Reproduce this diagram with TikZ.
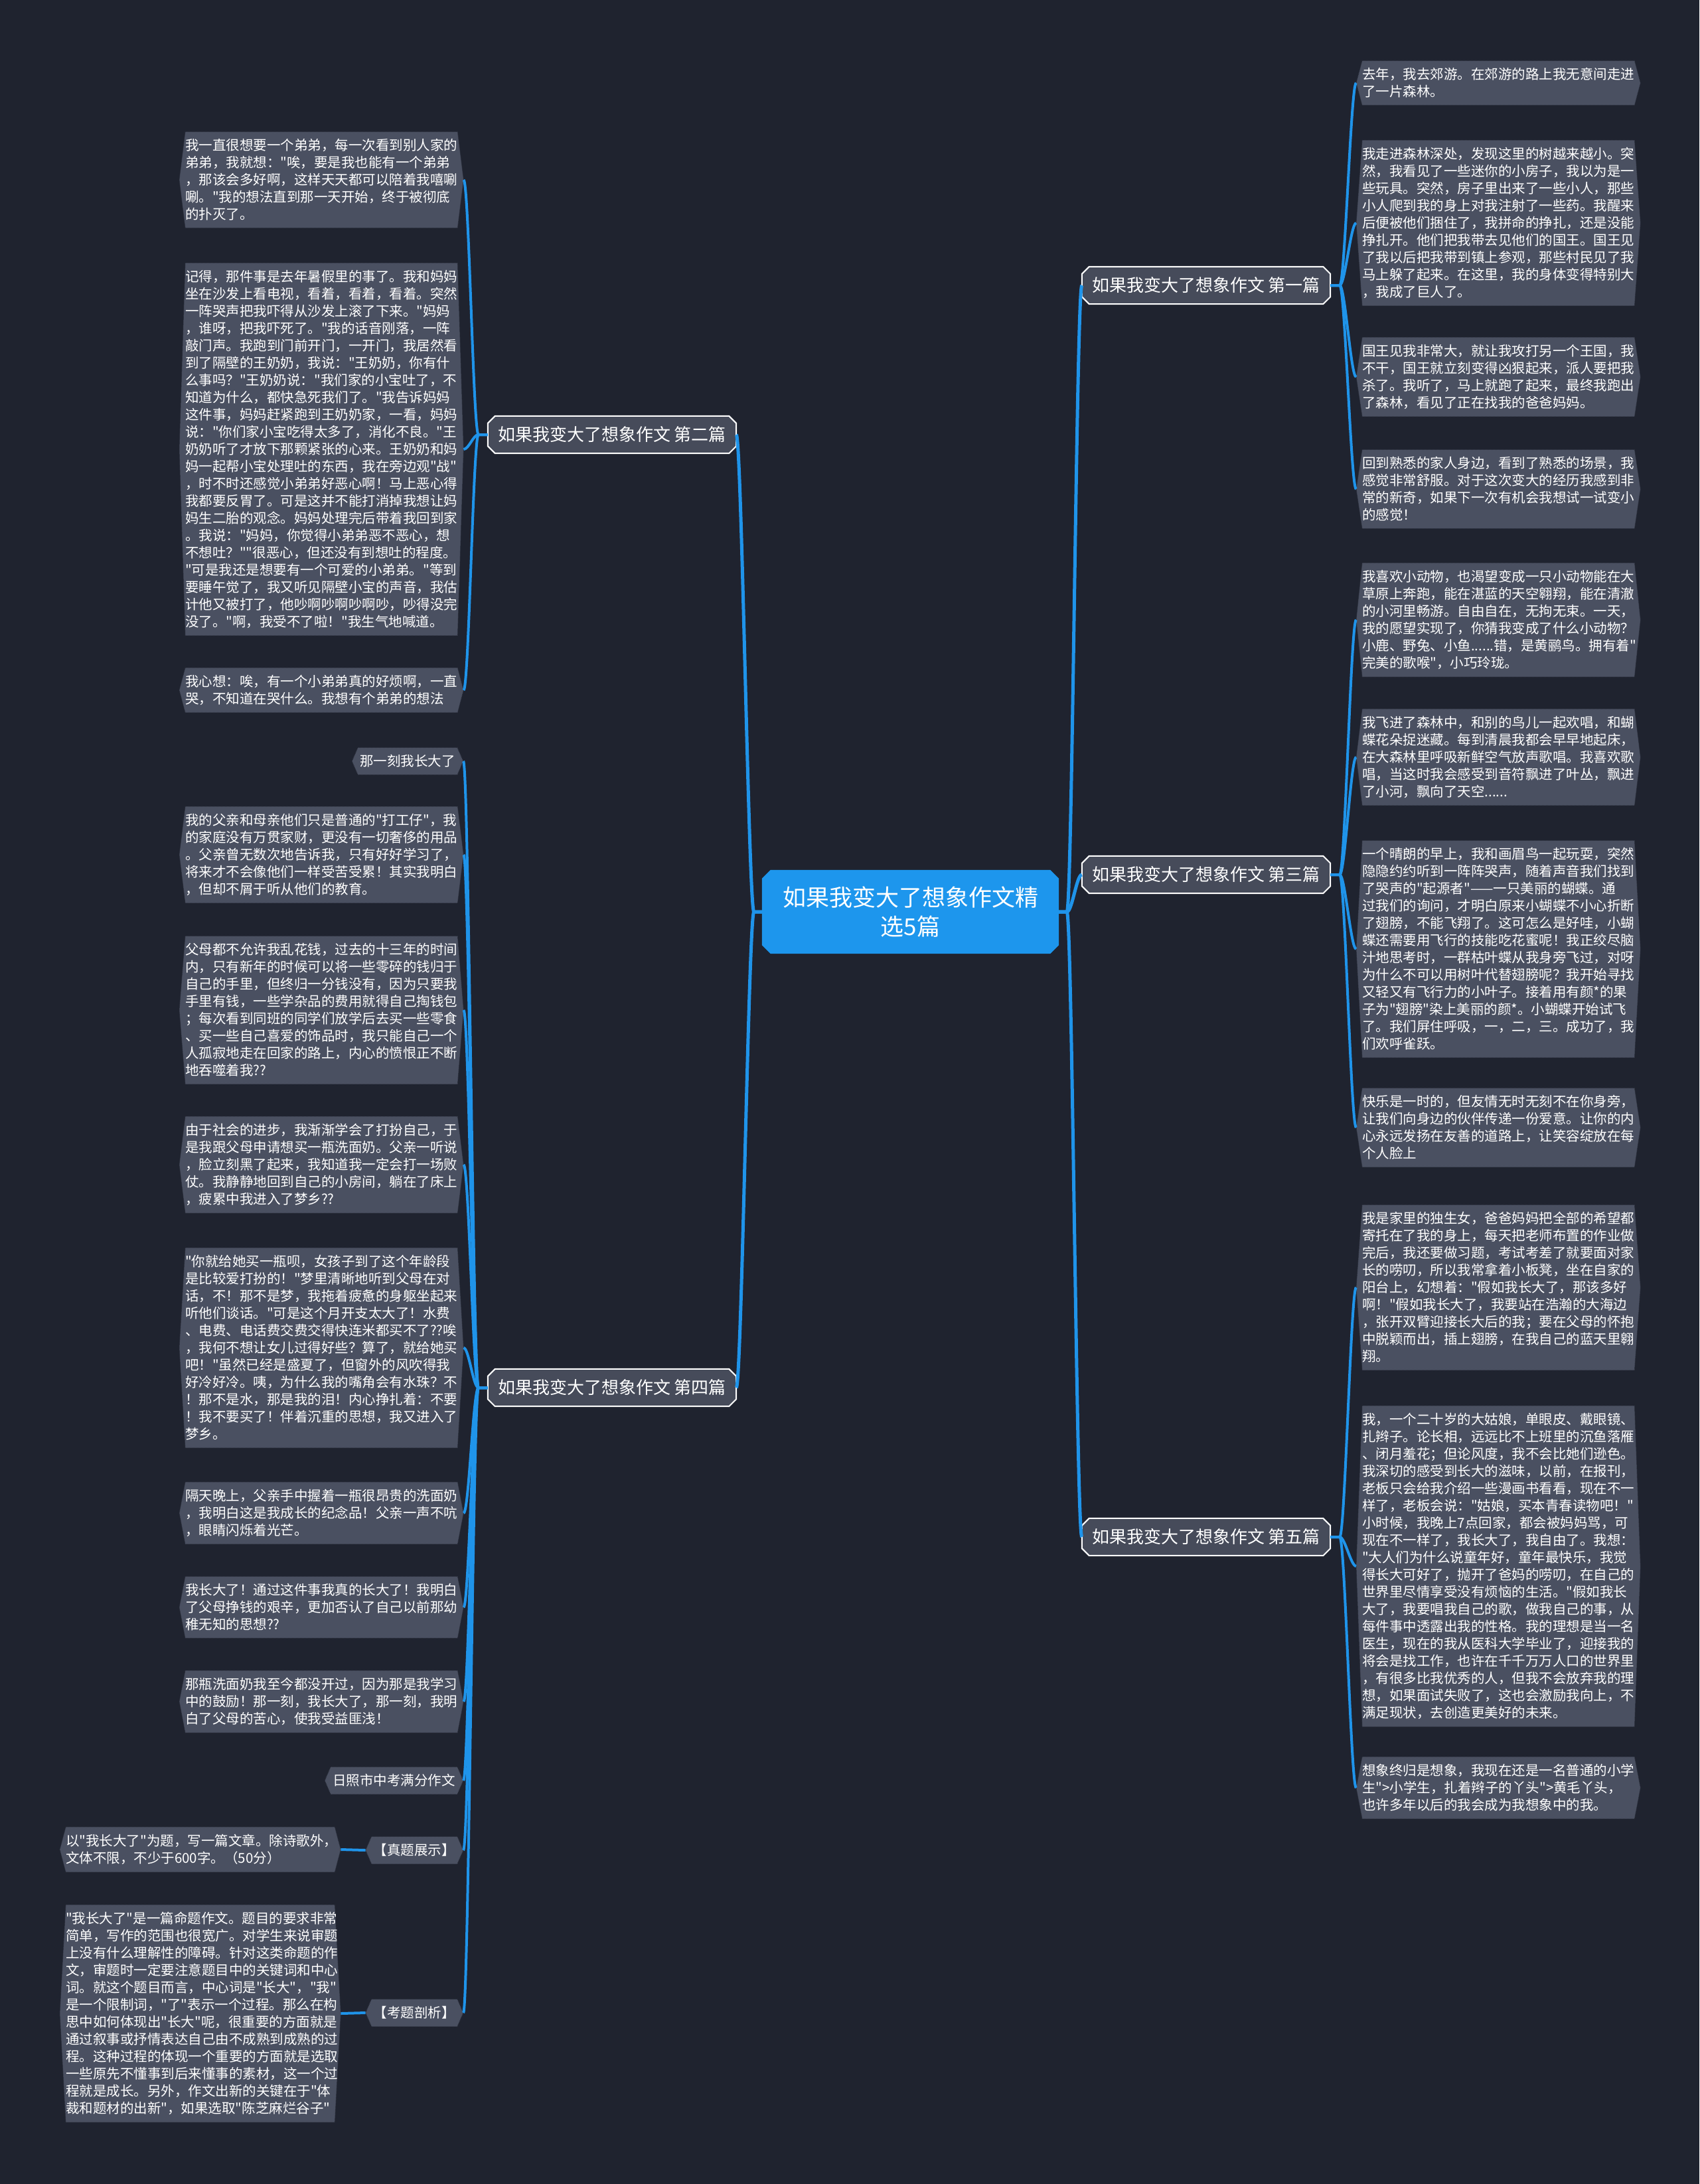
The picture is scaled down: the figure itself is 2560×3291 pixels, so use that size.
\documentclass[tikz,border=0pt]{standalone}
\usepackage{fontspec}
\newfontfamily\cjk{Noto Sans CJK SC}
\usetikzlibrary{backgrounds}
\definecolor{bgc}{RGB}{31,35,47}
\definecolor{leafc}{RGB}{74,80,97}
\definecolor{branchc}{RGB}{70,75,90}
\definecolor{centerc}{RGB}{29,150,237}
\definecolor{linec}{RGB}{31,148,234}
\definecolor{edgec}{RGB}{36,40,52}
\newcommand\hexa[2]{\path[#2] (#1.north west) -- (#1.north east) -- ([shift={(9,0)}]#1.east) -- (#1.south east) -- (#1.south west) -- ([shift={(-9,0)}]#1.west) -- cycle;}
\newcommand\octa[3]{\path[#3] ([shift={(#2,0)}]#1.north west) -- ([shift={(-#2,0)}]#1.north east) -- ([shift={(0,#2)}]#1.north east) -- ([shift={(0,-#2)}]#1.south east) -- ([shift={(-#2,0)}]#1.south east) -- ([shift={(#2,0)}]#1.south west) -- ([shift={(0,-#2)}]#1.south west) -- ([shift={(0,#2)}]#1.north west) -- cycle;}
\tikzset{
  leaf/.style={font=\cjk\fontsize{20.5}{26}\selectfont, text=white, align=left, text width=410pt, inner xsep=0pt, inner ysep=11pt},
  qleaf/.style={leaf, text width=405pt},
  tagbox/.style={font=\cjk\fontsize{20.5}{26}\selectfont, text=white, inner xsep=3pt, inner ysep=11pt},
  branch/.style={font=\cjk\fontsize{26}{30}\selectfont, text=white, minimum width=374pt, minimum height=56pt, inner sep=0pt},
  central/.style={font=\cjk\fontsize{35}{44}\selectfont, text=white, align=center, minimum width=447pt, minimum height=126pt, inner sep=0pt},
  conn/.style={draw=linec, line width=4pt},
  mainconn/.style={draw=linec, line width=5pt},
  leaffill/.style={fill=leafc, draw=edgec, densely dotted, line width=1pt},
  branchfill/.style={fill=branchc, draw=white, line width=2pt},
  centerfill/.style={fill=centerc}
}
\begin{document}
\begin{tikzpicture}[x=1pt,y=-1pt]
\useasboundingbox (0,0) rectangle (2560,3291);
% centre and branches
\node[central] (ctr) at (1371.5,1374) {如果我变大了想象作文精\\选5篇};
\node[branch] (b1) at (1817,430) {如果我变大了想象作文 第一篇};
\node[branch] (b3) at (1817,1318) {如果我变大了想象作文 第三篇};
\node[branch] (b5) at (1817,2316) {如果我变大了想象作文 第五篇};
\node[branch] (b2) at (922,655) {如果我变大了想象作文 第二篇};
\node[branch] (b4) at (922,2091) {如果我变大了想象作文 第四篇};
% right leaves
\node[leaf, anchor=west] (R1) at (2052,125) {去年，我去郊游。在郊游的路上我无意间走进\\了一片森林。};
\node[leaf, anchor=west] (R2) at (2052,336) {我走进森林深处，发现这里的树越来越小。突\\然，我看见了一些迷你的小房子，我以为是一\\些玩具。突然，房子里出来了一些小人，那些\\小人爬到我的身上对我注射了一些药。我醒来\\后便被他们捆住了，我拼命的挣扎，还是没能\\挣扎开。他们把我带去见他们的国王。国王见\\了我以后把我带到镇上参观，那些村民见了我\\马上躲了起来。在这里，我的身体变得特别大\\，我成了巨人了。};
\node[leaf, anchor=west] (R3) at (2052,568) {国王见我非常大，就让我攻打另一个王国，我\\不干，国王就立刻变得凶狠起来，派人要把我\\杀了。我听了，马上就跑了起来，最终我跑出\\了森林，看见了正在找我的爸爸妈妈。};
\node[leaf, anchor=west] (R4) at (2052,737) {回到熟悉的家人身边，看到了熟悉的场景，我\\感觉非常舒服。对于这次变大的经历我感到非\\常的新奇，如果下一次有机会我想试一试变小\\的感觉！};
\node[leaf, anchor=west] (R5) at (2052,934) {我喜欢小动物，也渴望变成一只小动物能在大\\草原上奔跑，能在湛蓝的天空翱翔，能在清澈\\的小河里畅游。自由自在，无拘无束。一天，\\我的愿望实现了，你猜我变成了什么小动物？\\小鹿、野兔、小鱼......错，是黄鹂鸟。拥有着"\\完美的歌喉"，小巧玲珑。};
\node[leaf, anchor=west] (R6) at (2052,1141) {我飞进了森林中，和别的鸟儿一起欢唱，和蝴\\蝶花朵捉迷藏。每到清晨我都会早早地起床，\\在大森林里呼吸新鲜空气放声歌唱。我喜欢歌\\唱，当这时我会感受到音符飘进了叶丛，飘进\\了小河，飘向了天空......};
\node[leaf, anchor=west] (R7) at (2052,1430) {一个晴朗的早上，我和画眉鸟一起玩耍，突然\\隐隐约约听到一阵阵哭声，随着声音我们找到\\了哭声的"起源者"——一只美丽的蝴蝶。通\\过我们的询问，才明白原来小蝴蝶不小心折断\\了翅膀，不能飞翔了。这可怎么是好哇，小蝴\\蝶还需要用飞行的技能吃花蜜呢！我正绞尽脑\\汁地思考时，一群枯叶蝶从我身旁飞过，对呀\\为什么不可以用树叶代替翅膀呢？我开始寻找\\又轻又有飞行力的小叶子。接着用有颜*的果\\子为"翅膀"染上美丽的颜*。小蝴蝶开始试飞\\了。我们屏住呼吸，一，二，三。成功了，我\\们欢呼雀跃。};
\node[leaf, anchor=west] (R8) at (2052,1699) {快乐是一时的，但友情无时无刻不在你身旁，\\让我们向身边的伙伴传递一份爱意。让你的内\\心永远发扬在友善的道路上，让笑容绽放在每\\个人脸上};
\node[leaf, anchor=west] (R9) at (2052,1940) {我是家里的独生女，爸爸妈妈把全部的希望都\\寄托在了我的身上，每天把老师布置的作业做\\完后，我还要做习题，考试考差了就要面对家\\长的唠叨，所以我常拿着小板凳，坐在自家的\\阳台上，幻想着："假如我长大了，那该多好\\啊！"假如我长大了，我要站在浩瀚的大海边\\，张开双臂迎接长大后的我；要在父母的怀抱\\中脱颖而出，插上翅膀，在我自己的蓝天里翱\\翔。};
\node[leaf, anchor=west] (R10) at (2052,2360) {我，一个二十岁的大姑娘，单眼皮、戴眼镜、\\扎辫子。论长相，远远比不上班里的沉鱼落雁\\、闭月羞花；但论风度，我不会比她们逊色。\\我深切的感受到长大的滋味，以前，在报刊，\\老板只会给我介绍一些漫画书看看，现在不一\\样了，老板会说："姑娘，买本青春读物吧！"\\小时候，我晚上7点回家，都会被妈妈骂，可\\现在不一样了，我长大了，我自由了。我想：\\"大人们为什么说童年好，童年最快乐，我觉\\得长大可好了，抛开了爸妈的唠叨，在自己的\\世界里尽情享受没有烦恼的生活。"假如我长\\大了，我要唱我自己的歌，做我自己的事，从\\每件事中透露出我的性格。我的理想是当一名\\医生，现在的我从医科大学毕业了，迎接我的\\将会是找工作，也许在千千万万人口的世界里\\，有很多比我优秀的人，但我不会放弃我的理\\想，如果面试失败了，这也会激励我向上，不\\满足现状，去创造更美好的未来。};
\node[leaf, anchor=west] (R11) at (2052,2694) {想象终归是想象，我现在还是一名普通的小学\\生">小学生，扎着辫子的丫头">黄毛丫头，\\也许多年以后的我会成为我想象中的我。};
% left leaves
\node[leaf, anchor=west] (L1) at (279,271) {我一直很想要一个弟弟，每一次看到别人家的\\弟弟，我就想："唉，要是我也能有一个弟弟\\，那该会多好啊，这样天天都可以陪着我嘻唰\\唰。"我的想法直到那一天开始，终于被彻底\\的扑灭了。};
\node[leaf, anchor=west] (L2) at (279,677) {记得，那件事是去年暑假里的事了。我和妈妈\\坐在沙发上看电视，看着，看着，看着。突然\\一阵哭声把我吓得从沙发上滚了下来。"妈妈\\，谁呀，把我吓死了。"我的话音刚落，一阵\\敲门声。我跑到门前开门，一开门，我居然看\\到了隔壁的王奶奶，我说："王奶奶，你有什\\么事吗？"王奶奶说："我们家的小宝吐了，不\\知道为什么，都快急死我们了。"我告诉妈妈\\这件事，妈妈赶紧跑到王奶奶家，一看，妈妈\\说："你们家小宝吃得太多了，消化不良。"王\\奶奶听了才放下那颗紧张的心来。王奶奶和妈\\妈一起帮小宝处理吐的东西，我在旁边观"战"\\，时不时还感觉小弟弟好恶心啊！马上恶心得\\我都要反胃了。可是这并不能打消掉我想让妈\\妈生二胎的观念。妈妈处理完后带着我回到家\\。我说："妈妈，你觉得小弟弟恶不恶心，想\\不想吐？""很恶心，但还没有到想吐的程度。\\"可是我还是想要有一个可爱的小弟弟。"等到\\要睡午觉了，我又听见隔壁小宝的声音，我估\\计他又被打了，他吵啊吵啊吵啊吵，吵得没完\\没了。"啊，我受不了啦！"我生气地喊道。};
\node[leaf, anchor=west] (L3) at (279,1040) {我心想：唉，有一个小弟弟真的好烦啊，一直\\哭，不知道在哭什么。我想有个弟弟的想法};
\node[tagbox, anchor=east] (L4) at (689,1147) {那一刻我长大了};
\node[leaf, anchor=west] (L5) at (279,1288) {我的父亲和母亲他们只是普通的"打工仔"，我\\的家庭没有万贯家财，更没有一切奢侈的用品\\。父亲曾无数次地告诉我，只有好好学习了，\\将来才不会像他们一样受苦受累！其实我明白\\，但却不屑于听从他们的教育。};
\node[leaf, anchor=west] (L6) at (279,1522) {父母都不允许我乱花钱，过去的十三年的时间\\内，只有新年的时候可以将一些零碎的钱归于\\自己的手里，但终归一分钱没有，因为只要我\\手里有钱，一些学杂品的费用就得自己掏钱包\\；每次看到同班的同学们放学后去买一些零食\\、买一些自己喜爱的饰品时，我只能自己一个\\人孤寂地走在回家的路上，内心的愤恨正不断\\地吞噬着我??};
\node[leaf, anchor=west] (L7) at (279,1755) {由于社会的进步，我渐渐学会了打扮自己，于\\是我跟父母申请想买一瓶洗面奶。父亲一听说\\，脸立刻黑了起来，我知道我一定会打一场败\\仗。我静静地回到自己的小房间，躺在了床上\\，疲累中我进入了梦乡??};
\node[leaf, anchor=west] (L8) at (279,2031) {"你就给她买一瓶呗，女孩子到了这个年龄段\\是比较爱打扮的！"梦里清晰地听到父母在对\\话，不！那不是梦，我拖着疲惫的身躯坐起来\\听他们谈话。"可是这个月开支太大了！水费\\、电费、电话费交费交得快连米都买不了??唉\\，我何不想让女儿过得好些？算了，就给她买\\吧！"虽然已经是盛夏了，但窗外的风吹得我\\好冷好冷。咦，为什么我的嘴角会有水珠？不\\！那不是水，那是我的泪！内心挣扎着：不要\\！我不要买了！伴着沉重的思想，我又进入了\\梦乡。};
\node[leaf, anchor=west] (L9) at (279,2280) {隔天晚上，父亲手中握着一瓶很昂贵的洗面奶\\，我明白这是我成长的纪念品！父亲一声不吭\\，眼睛闪烁着光芒。};
\node[leaf, anchor=west] (L10) at (279,2422) {我长大了！通过这件事我真的长大了！我明白\\了父母挣钱的艰辛，更加否认了自己以前那幼\\稚无知的思想??};
\node[leaf, anchor=west] (L11) at (279,2564) {那瓶洗面奶我至今都没开过，因为那是我学习\\中的鼓励！那一刻，我长大了，那一刻，我明\\白了父母的苦心，使我受益匪浅！};
\node[tagbox, anchor=east] (L12) at (689,2683) {日照市中考满分作文};
\node[tagbox, anchor=east] (L13) at (689,2788) {【真题展示】};
\node[tagbox, anchor=east] (L14) at (689,3033) {【考题剖析】};
\node[qleaf, anchor=west] (Q1) at (99,2787) {以"我长大了"为题，写一篇文章。除诗歌外，\\文体不限，不少于600字。（50分）};
\node[qleaf, anchor=west] (Q2) at (99,3034) {"我长大了"是一篇命题作文。题目的要求非常\\简单，写作的范围也很宽广。对学生来说审题\\上没有什么理解性的障碍。针对这类命题的作\\文，审题时一定要注意题目中的关键词和中心\\词。就这个题目而言，中心词是"长大"，"我"\\是一个限制词，"了"表示一个过程。那么在构\\思中如何体现出"长大"呢，很重要的方面就是\\通过叙事或抒情表达自己由不成熟到成熟的过\\程。这种过程的体现一个重要的方面就是选取\\一些原先不懂事到后来懂事的素材，这一个过\\程就是成长。另外，作文出新的关键在于"体\\裁和题材的出新"，如果选取"陈芝麻烂谷子"};
% backgrounds and shapes
\begin{pgfonlayer}{background}
\fill[bgc] (0,0) rectangle (2560,3291);
\foreach \n in {R1,R2,R3,R4,R5,R6,R7,R8,R9,R10,R11,L1,L2,L3,L4,L5,L6,L7,L8,L9,L10,L11,L12,L13,L14,Q1,Q2} {\hexa{\n}{leaffill}}
\foreach \n in {b1,b2,b3,b4,b5} {\octa{\n}{11}{branchfill}}
\octa{ctr}{13}{centerfill}
\end{pgfonlayer}
% connectors: centre to branches
\foreach \b in {b1,b3,b5} {\draw[mainconn] (ctr.east) -- ++(12,0) .. controls +(8,0) and +(-8,0) .. (\b.west);}
\foreach \b in {b2,b4} {\draw[mainconn] (ctr.west) -- ++(-12,0) .. controls +(-8,0) and +(8,0) .. (\b.east);}
% branch to leaves
\foreach \l in {R1,R2,R3,R4} {\draw[conn] (b1.east) -- ++(14,0) .. controls +(8,0) and +(-8,0) .. ([shift={(-9,0)}]\l.west);}
\foreach \l in {R5,R6,R7,R8} {\draw[conn] (b3.east) -- ++(14,0) .. controls +(8,0) and +(-8,0) .. ([shift={(-9,0)}]\l.west);}
\foreach \l in {R9,R10,R11} {\draw[conn] (b5.east) -- ++(14,0) .. controls +(8,0) and +(-8,0) .. ([shift={(-9,0)}]\l.west);}
\foreach \l in {L1,L2,L3} {\draw[conn] (b2.west) -- ++(-14,0) .. controls +(-8,0) and +(8,0) .. ([shift={(9,0)}]\l.east);}
\foreach \l in {L4,L5,L6,L7,L8,L9,L10,L11,L12,L13,L14} {\draw[conn] (b4.west) -- ++(-14,0) .. controls +(-8,0) and +(8,0) .. ([shift={(9,0)}]\l.east);}
\draw[conn] ([shift={(-9,0)}]L13.west) -- ([shift={(9,0)}]Q1.east);
\draw[conn] ([shift={(-9,0)}]L14.west) -- ([shift={(9,0)}]Q2.east);
\end{tikzpicture}
\end{document}
